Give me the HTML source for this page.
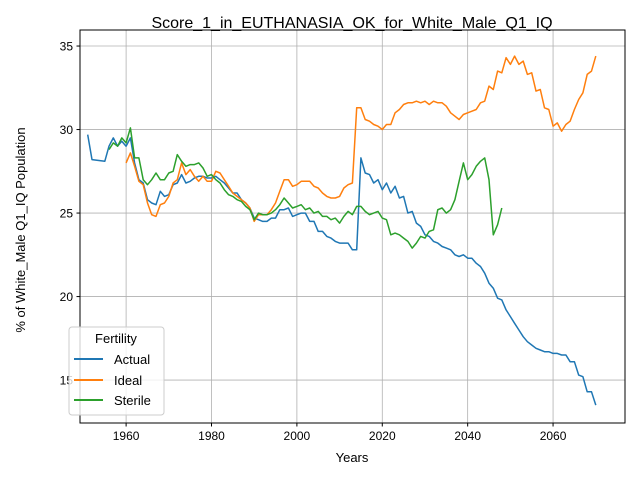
<!DOCTYPE html>
<html><head><meta charset="utf-8"><style>body{margin:0;background:#fff}svg text{font-family:"Liberation Sans","DejaVu Sans",sans-serif;fill:#000}</style></head>
<body>
<svg id="chart" width="640" height="480" viewBox="0 0 640 480">
<rect x="0" y="0" width="640" height="480" fill="#fff"/>
<g id="grid"></g>
<g id="series"></g>
<rect x="80" y="30" width="545" height="393" fill="none" stroke="#000" stroke-width="1"/>
<g id="ticks"></g>
<text x="352" y="28" font-size="16" text-anchor="middle">Score_1_in_EUTHANASIA_OK_for_White_Male_Q1_IQ</text>
<text x="352" y="462" font-size="13" text-anchor="middle">Years</text>
<text x="25" y="230" font-size="13" text-anchor="middle" transform="rotate(-90 25 230)">% of White_Male Q1_IQ Population</text>
<g>
<rect x="69" y="327" width="95" height="88" rx="3" fill="#fff" fill-opacity="0.8" stroke="#ccc"/>
<text x="116" y="343" font-size="13" text-anchor="middle">Fertility</text>
<line x1="74" y1="359" x2="103" y2="359" stroke="#1f77b4" stroke-width="2"/>
<text x="114" y="364" font-size="13">Actual</text>
<line x1="74" y1="380" x2="103" y2="380" stroke="#ff7f0e" stroke-width="2"/>
<text x="114" y="385" font-size="13">Ideal</text>
<line x1="74" y1="400" x2="103" y2="400" stroke="#2ca02c" stroke-width="2"/>
<text x="114" y="405" font-size="13">Sterile</text>
</g>
</svg>
<script>
const xTicks=[1960,1980,2000,2020,2040,2060];
const yTicks=[15,20,25,30,35];
const actualYears=[1951,1952,1955,1956,1957,1958,1959,1960,1961,1962,1963,1964,1965,1966,1967,1968,1969,1970,1971,1972,1973,1974,1975,1976,1977,1978,1979,1980,1981,1982,1983,1984,1985,1986,1987,1988,1989,1990,1991,1992,1993,1994,1995,1996,1997,1998,1999,2000,2001,2002,2003,2004,2005,2006,2007,2008,2009,2010,2011,2012,2013,2014,2015,2016,2017,2018,2019,2020,2021,2022,2023,2024,2025,2026,2027,2028,2029,2030,2031,2032,2033,2034,2035,2036,2037,2038,2039,2040,2041,2042,2043,2044,2045,2046,2047,2048,2049,2050,2051,2052,2053,2054,2055,2056,2057,2058,2059,2060,2061,2062,2063,2064,2065,2066,2067,2068,2069,2070];
const actualValues=[29.7,28.2,28.1,29.0,29.5,29.0,29.3,29.0,29.5,28.0,27.0,26.8,25.8,25.6,25.5,26.3,26.0,26.1,26.7,26.8,27.3,26.8,26.9,27.1,27.2,27.2,27.1,27.1,27.2,27.0,26.8,26.5,26.2,26.2,25.8,25.6,25.3,24.7,24.6,24.5,24.5,24.7,24.7,25.2,25.2,25.3,24.8,24.9,25.0,25.0,24.5,24.5,23.9,23.9,23.6,23.5,23.3,23.2,23.2,23.2,22.8,22.8,28.3,27.4,27.3,26.8,27.0,26.4,26.8,26.2,26.6,25.9,26.0,25.0,25.1,24.4,24.2,23.7,23.6,23.3,23.2,23.0,22.9,22.8,22.5,22.4,22.5,22.3,22.3,22.0,21.8,21.4,20.8,20.5,19.9,19.8,19.2,18.8,18.4,18.0,17.6,17.3,17.1,16.9,16.8,16.7,16.7,16.6,16.6,16.5,16.5,16.1,16.1,15.3,15.2,14.3,14.3,13.5];
const idealStart=1960;
const idealValues=[28.0,28.6,27.8,26.9,26.7,25.6,24.9,24.8,25.5,25.6,26.0,26.8,27.0,28.0,27.3,27.6,27.2,26.9,27.2,26.9,26.9,27.5,27.4,27.0,26.6,26.2,26.0,25.8,25.6,25.3,24.5,24.9,24.9,24.9,25.2,25.6,26.3,27.0,27.0,26.6,26.7,26.9,26.9,26.9,26.6,26.5,26.2,26.0,25.9,25.9,26.0,26.5,26.7,26.8,31.3,31.3,30.6,30.5,30.3,30.2,30.0,30.3,30.3,31.0,31.2,31.5,31.6,31.6,31.7,31.6,31.7,31.5,31.7,31.6,31.6,31.4,31.0,30.8,30.6,30.9,31.0,31.1,31.2,31.6,31.7,32.6,32.4,33.5,33.4,34.3,33.9,34.4,33.9,34.1,33.3,33.4,32.3,32.4,31.3,31.2,30.2,30.4,29.9,30.3,30.5,31.2,31.8,32.2,33.3,33.5,34.4];
const sterileStart=1956;
const sterileValues=[28.8,29.2,29.0,29.5,29.2,30.1,28.3,28.3,27.0,26.7,27.0,27.4,27.0,27.0,27.4,27.5,28.5,28.1,27.8,27.9,27.9,28.0,27.7,27.2,27.3,27.0,26.8,26.4,26.1,26.0,25.8,25.7,25.4,25.2,24.6,25.0,24.9,24.9,25.0,25.2,25.5,25.9,25.6,25.3,25.4,25.5,25.2,25.3,25.0,25.1,24.8,24.8,24.6,24.7,24.4,24.8,25.1,24.9,25.4,25.4,25.1,24.9,25.0,25.1,24.7,24.6,23.7,23.8,23.7,23.5,23.3,22.9,23.2,23.6,23.5,23.9,24.0,25.2,25.3,25.0,25.2,25.8,26.9,28.0,27.0,27.3,27.8,28.1,28.3,27.0,23.7,24.3,25.3];

const NS='http://www.w3.org/2000/svg';
const L=80,R=625,T=30,B=423;
const xMin=1949.2,xMax=2076.85,yMin=12.43,yMax=35.96;
function xs(v){return L+(v-xMin)/(xMax-xMin)*(R-L);}
function ys(v){return B-(v-yMin)/(yMax-yMin)*(B-T);}
function mk(tag,attrs,parent){const e=document.createElementNS(NS,tag);for(const k in attrs)e.setAttribute(k,attrs[k]);parent.appendChild(e);return e;}
const grid=document.getElementById('grid'),ticks=document.getElementById('ticks'),series=document.getElementById('series');
xTicks.forEach(t=>{const x=xs(t);
 const g=mk('line',{x1:x,x2:x,y1:T,y2:B,stroke:'#b0b0b0','stroke-width':0.8},grid);
 
 
 const tk=mk('line',{x1:x,x2:x,y1:B,y2:B+3.5,stroke:'#000'},ticks);
 
 
 const tx=mk('text',{x:x,y:B+17,'font-size':12,'text-anchor':'middle'},ticks);tx.textContent=t;
 
 
});
yTicks.forEach(t=>{const y=ys(t);
 const g=mk('line',{x1:L,x2:R,y1:y,y2:y,stroke:'#b0b0b0','stroke-width':0.8},grid);
 
 
 const tk=mk('line',{x1:L-3.5,x2:L,y1:y,y2:y,stroke:'#000'},ticks);
 
 
 const tx=mk('text',{x:L-7,y:y+4.5,'font-size':12,'text-anchor':'end'},ticks);tx.textContent=t;
 
 
});
function line(years,vals,color,name){
 const d=vals.map((v,i)=>(i?'L':'M')+xs(years[i]).toFixed(1)+','+ys(v).toFixed(1)).join('');
 const p=mk('path',{d:d,fill:'none',stroke:color,'stroke-width':1.5,'stroke-linejoin':'round'},series);
 
 
}
line(actualYears,actualValues,'#1f77b4','actual-line');
line(idealValues.map((v,i)=>idealStart+i),idealValues,'#ff7f0e','ideal-line');
line(sterileValues.map((v,i)=>sterileStart+i),sterileValues,'#2ca02c','sterile-line');
</script>
</body></html>
